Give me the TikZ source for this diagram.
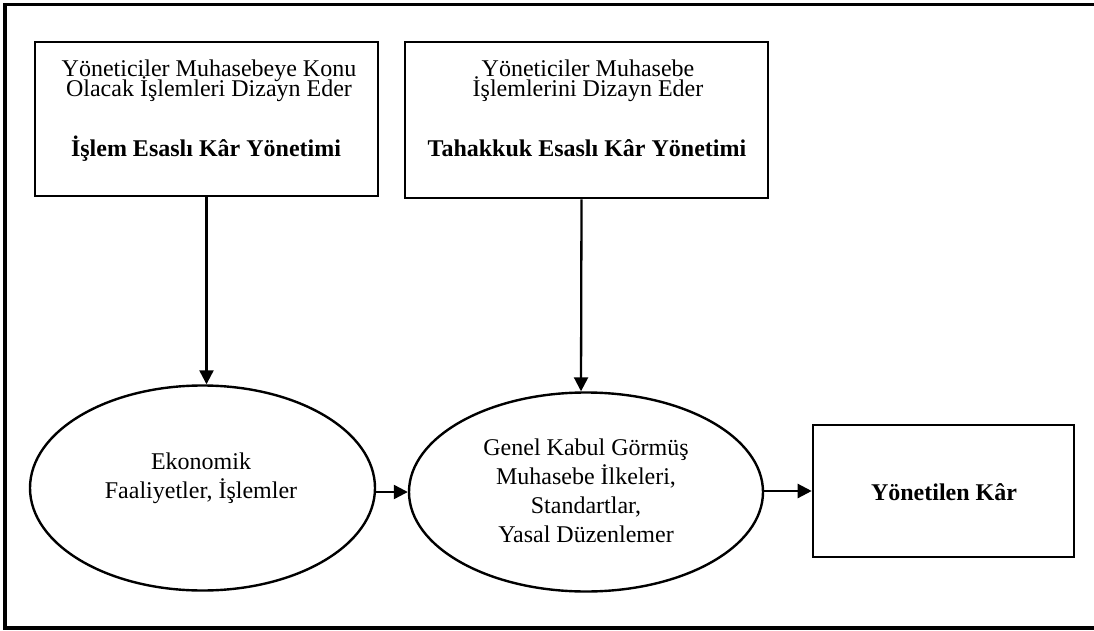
\documentclass[tikz,border=0pt]{standalone}
\usepackage{fontspec}
\setmainfont{Liberation Serif}
\usetikzlibrary{arrows.meta,shapes.geometric}
\begin{document}
\begin{tikzpicture}[x=1pt,y=-1pt,
  boxshape/.style={draw,line width=2.6pt,rectangle,inner sep=0pt},
  ellshape/.style={draw,line width=2.4pt,ellipse,inner sep=0pt},
  txt/.style={anchor=base,inner sep=0pt,text height=15.5pt,text depth=3.5pt,font=\fontsize{24}{20}\selectfont},
  btxt/.style={txt,font=\fontsize{24}{20}\selectfont\bfseries},
  conn/.style={line width=2.3pt,-{Triangle[length=14pt,width=14pt]}}]
\useasboundingbox (0,0) rectangle (1094,631);
\draw[line width=3.4pt] (5,4.5) rectangle (1100,628);
% boxes
\node[boxshape,minimum width=343pt,minimum height=154pt] (b1) at (206.5,119) {};
\node[boxshape,minimum width=363pt,minimum height=156pt] (b2) at (586.5,120) {};
\node[boxshape,minimum width=261pt,minimum height=132pt] (b3) at (943.5,491) {};
% ellipses
\node[ellshape,minimum width=345pt,minimum height=205pt] (e1) at (202.5,488) {};
\node[ellshape,minimum width=354pt,minimum height=199pt] (e2) at (586,492) {};
% texts box 1
\node[txt] (t11) at (209,77) {Yöneticiler Muhasebeye Konu};
\node[txt] (t12) at (209,97) {Olacak İşlemleri Dizayn Eder};
\node[btxt] (t13) at (206,157) {İşlem Esaslı Kâr Yönetimi};
% texts box 2
\node[txt] (t21) at (588,77) {Yöneticiler Muhasebe};
\node[txt] (t22) at (588,97) {İşlemlerini Dizayn Eder};
\node[btxt] (t23) at (587,157) {Tahakkuk Esaslı Kâr Yönetimi};
% texts ellipse 1
\node[txt] (t31) at (201,469) {Ekonomik};
\node[txt] (t32) at (201,498) {Faaliyetler, İşlemler};
% texts ellipse 2
\node[txt] (t41) at (586,455) {Genel Kabul Görmüş};
\node[txt] (t42) at (586,484) {Muhasebe İlkeleri,};
\node[txt] (t43) at (586,513) {Standartlar,};
\node[txt] (t44) at (586,542) {Yasal Düzenlemer};
% text box 3
\node[btxt] (t51) at (944,500) {Yönetilen Kâr};
% connectors
\draw[conn] (b1.south) -- (b1.south |- e1.north);
\draw[conn] ([xshift=-5pt]b2.south) -- ([xshift=-5pt]e2.north);
\draw[conn] (e1.east |- e2.west) -- (e2.west);
\draw[conn] (e2.east |- b3.west) -- (b3.west);
\end{tikzpicture}
\end{document}
